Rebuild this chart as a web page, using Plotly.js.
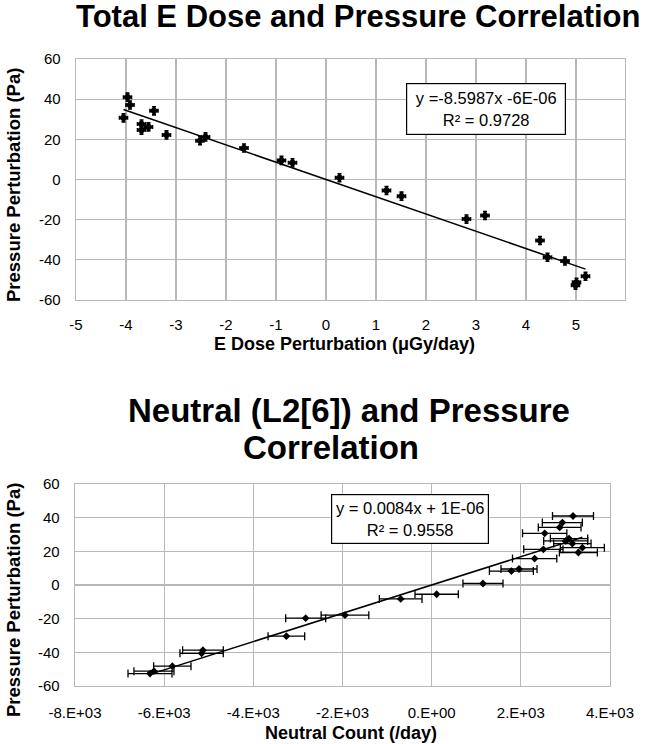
<!DOCTYPE html>
<html>
<head>
<meta charset="utf-8">
<script src="https://cdn.plot.ly/plotly-3.0.1.min.js"></script>
<style>html,body{margin:0;padding:0;background:#fff;}#chart{width:650px;height:744px;}</style>
</head>
<body>
<div id="chart"></div>
<script>
// ---- data ----
var pressure = [41.0, 37.1, 34.2, 30.7, 27.6, 26.2, 24.6, 22.2, 21.2, 19.3, 15.7, 9.5, 8.3, 0.9, -5.5, -8.3, -17.9, -19.7, -30.4, -38.7, -40.6, -48.2, -51.2, -52.6];
var eDose = [-3.97, -3.92, -3.44, -4.05, -3.69, -3.55, -3.69, -3.19, -2.41, -2.52, -1.64, -0.89, -0.67, 0.27, 1.21, 1.51, 3.18, 2.81, 4.28, 4.43, 4.78, 5.19, 5.01, 4.99];
var neutral = [3170, 2931, 2871, 2535, 3081, 3006, 3156, 3380, 2505, 3291, 2310, 1959, 1788, 1151, 112, -695, -1945, -2826, -3259, -5130, -5160, -5817, -6229, -6318];
var neutralErr = [460, 449, 479, 497, 419, 493, 419, 493, 441, 426, 497, 404, 493, 449, 486, 479, 535, 449, 411, 456, 486, 419, 449, 493];
var doseFit = {slope: -8.5987, intercept: -6e-6, label1: "y =-8.5987x -6E-06", label2: "R\u00b2 = 0.9728"};
var neutralFit = {slope: 0.0084, intercept: 1e-6, label1: "y = 0.0084x + 1E-06", label2: "R\u00b2 = 0.9558"};
var doseTicks = [-5, -4, -3, -2, -1, 0, 1, 2, 3, 4, 5];
var neutralTickVals = [-8000, -6000, -4000, -2000, 0, 2000, 4000];
var neutralTickText = ["-8.E+03", "-6.E+03", "-4.E+03", "-2.E+03", "0.E+00", "2.E+03", "4.E+03"];
var pressureTicks = [-60, -40, -20, 0, 20, 40, 60];
var title1 = "Total E Dose and Pressure Correlation";
var title2a = "Neutral (L2[6]) and Pressure";
var title2b = "Correlation";
var xTitle1 = "E Dose Perturbation (\u03bcGy/day)";
var xTitle2 = "Neutral Count (/day)";
var yTitle = "Pressure Perturbation (Pa)";

// ---- helpers ----
var W = 650, H = 744;
function fx(p) { return p / W; }
function fy(p) { return 1 - p / H; }
function fitLine(xs, fit) {
  var lo = Math.min.apply(null, xs), hi = Math.max.apply(null, xs);
  return {x: [lo, hi], y: [fit.slope * lo + fit.intercept, fit.slope * hi + fit.intercept]};
}
var FONT = "Liberation Sans, Arial, Helvetica, sans-serif";
var GRID = "#b8b8b8";

var t1 = fitLine(eDose, doseFit);
var t2 = fitLine(neutral, neutralFit);

var traces = [
  {x: eDose, y: pressure, type: "scatter", mode: "markers", xaxis: "x", yaxis: "y",
   marker: {symbol: "diamond", size: 7, color: "#000"},
   error_x: {type: "constant", value: 0.08, color: "#000", thickness: 1.6, width: 2},
   error_y: {type: "constant", value: 2.0, color: "#000", thickness: 1.6, width: 2},
   hoverinfo: "skip"},
  {x: t1.x, y: t1.y, type: "scatter", mode: "lines", xaxis: "x", yaxis: "y",
   line: {color: "#000", width: 1.5}, hoverinfo: "skip"},
  {x: neutral, y: pressure, type: "scatter", mode: "markers", xaxis: "x2", yaxis: "y2",
   marker: {symbol: "diamond", size: 6, color: "#000"},
   error_x: {type: "data", array: neutralErr, color: "#000", thickness: 1.3, width: 4},
   hoverinfo: "skip"},
  {x: t2.x, y: t2.y, type: "scatter", mode: "lines", xaxis: "x2", yaxis: "y2",
   line: {color: "#000", width: 1.5}, hoverinfo: "skip"}
];

function axisBase() {
  return {showgrid: true, gridcolor: GRID, gridwidth: 1.3, zeroline: false,
    showline: true, linecolor: GRID, linewidth: 1.3, mirror: true, ticks: "",
    tickfont: {family: FONT, size: 15, color: "#000"}, fixedrange: true};
}

var xa = axisBase(); xa.domain = [fx(76), fx(625)]; xa.anchor = "y"; xa.range = [-5, 5.98];
xa.tickmode = "array"; xa.tickvals = doseTicks; xa.ticktext = doseTicks.map(String); xa.ticklabelstandoff = 11;
var ya = axisBase(); ya.domain = [fy(300), fy(59)]; ya.anchor = "x"; ya.range = [-60, 60];
ya.tickmode = "array"; ya.tickvals = pressureTicks; ya.ticktext = pressureTicks.map(String); ya.ticklabelstandoff = 11;
var xa2 = axisBase(); xa2.domain = [fx(75), fx(610)]; xa2.anchor = "y2"; xa2.range = [-8000, 4000];
xa2.tickmode = "array"; xa2.tickvals = neutralTickVals; xa2.ticktext = neutralTickText; xa2.ticklabelstandoff = 13;
var ya2 = axisBase(); ya2.domain = [fy(686), fy(484)]; ya2.anchor = "x2"; ya2.range = [-60, 60];
ya2.tickmode = "array"; ya2.tickvals = pressureTicks; ya2.ticktext = pressureTicks.map(String); ya2.ticklabelstandoff = 11;

function ann(text, x, y, size, bold, extra) {
  var a = {text: bold ? "<b>" + text + "</b>" : text, xref: "paper", yref: "paper",
    x: fx(x), y: fy(y), xanchor: "center", yanchor: "middle", showarrow: false,
    font: {family: FONT, size: size, color: "#000"}};
  for (var k in extra) a[k] = extra[k];
  return a;
}

var annotations = [
  ann(title1, 358, 17, 31, true),
  ann(title2a, 349, 411, 33, true),
  ann(title2b, 331, 447, 33, true),
  ann(xTitle1, 344, 344, 18, true),
  ann(xTitle2, 351, 733, 18, true),
  ann(yTitle, 13, 185, 18.5, true, {textangle: -90}),
  ann(yTitle, 13, 600, 18.5, true, {textangle: -90}),
  ann(doseFit.label1 + "<br>" + doseFit.label2, 485.5, 109, 16.5, false,
      {bgcolor: "#fff", bordercolor: "#000", borderwidth: 1.2, borderpad: 3, width: 152, height: 44}),
  ann(neutralFit.label1 + "<br>" + neutralFit.label2, 410, 518.5, 16.5, false,
      {bgcolor: "#fff", bordercolor: "#000", borderwidth: 1.2, borderpad: 2, width: 152, height: 44})
];

var layout = {
  width: W, height: H, margin: {l: 0, r: 0, t: 0, b: 0},
  paper_bgcolor: "#fff", plot_bgcolor: "#fff", showlegend: false,
  font: {family: FONT, color: "#000"},
  xaxis: xa, yaxis: ya, xaxis2: xa2, yaxis2: ya2,
  annotations: annotations
};

Plotly.newPlot("chart", traces, layout, {displayModeBar: false, staticPlot: true});
</script>
</body>
</html>
